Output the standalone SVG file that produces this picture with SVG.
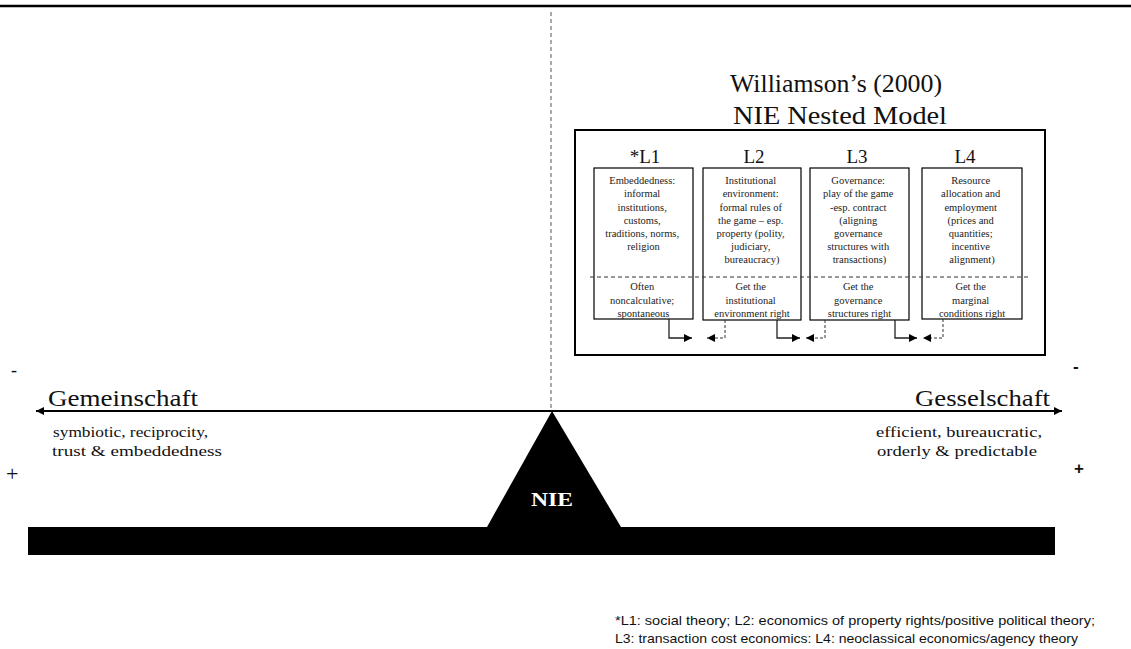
<svg xmlns="http://www.w3.org/2000/svg" width="1131" height="649" viewBox="0 0 1131 649">
  <style>
    .serif { font-family: "Liberation Serif", "DejaVu Serif", serif; fill: #111; }
    .sans { font-family: "Liberation Sans", Arial, sans-serif; fill: #111; }
    .lvl { font-size: 10.5px; text-anchor: middle; fill: #222; }
    .head { font-size: 19px; text-anchor: middle; }
    .title { font-size: 26px; text-anchor: middle; }
    .pole { font-size: 24px; }
    .desc { font-size: 15px; }
    .inner { fill: #fff; stroke: #000; stroke-width: 1.2; }
    .solid { fill: none; stroke: #222; stroke-width: 1.3; }
    .dashed { fill: none; stroke: #333; stroke-width: 1; stroke-dasharray: 3 2; }
  </style>
  <defs>
    <marker id="head" viewBox="0 0 10 10" refX="10" refY="5" markerWidth="9" markerHeight="8" markerUnits="userSpaceOnUse" orient="auto">
      <path d="M0,0 L10,5 L0,10 z" fill="#000"/>
    </marker>
    <marker id="bigHead" viewBox="0 0 10 10" refX="10" refY="5" markerWidth="11" markerHeight="8" markerUnits="userSpaceOnUse" orient="auto-start-reverse">
      <path d="M0,0 L10,5 L0,10 z" fill="#000"/>
    </marker>
  </defs>

  <rect width="1131" height="649" fill="#fff"/>

  <!-- page rule at top -->
  <line x1="0" y1="6" x2="1131" y2="6" stroke="#000" stroke-width="2.4"/>

  <!-- Williamson nested model -->
  <g id="nested-model">
    <text class="serif title" x="836" y="92" textLength="212" lengthAdjust="spacingAndGlyphs">Williamson’s (2000)</text>
    <text class="serif title" x="840" y="124" textLength="214" lengthAdjust="spacingAndGlyphs">NIE Nested Model</text>
    <rect x="575" y="130" width="470" height="225" fill="#fff" stroke="#000" stroke-width="2"/>
  </g>

  <g id="level-L1">
    <text class="serif head" x="645" y="163">*L1</text>
    <rect class="inner" x="594" y="168" width="99" height="151"/>
    <text class="serif lvl">
      <tspan x="643.5" y="184">Embeddedness:</tspan>
      <tspan x="643.5" y="197">informal</tspan>
      <tspan x="643.5" y="211">institutions,</tspan>
      <tspan x="643.5" y="224">customs,</tspan>
      <tspan x="643.5" y="237">traditions, norms,</tspan>
      <tspan x="643.5" y="250">religion</tspan>
    </text>
    <text class="serif lvl">
      <tspan x="643.5" y="290">Often</tspan>
      <tspan x="643.5" y="304">noncalculative;</tspan>
      <tspan x="643.5" y="317">spontaneous</tspan>
    </text>
  </g>

  <g id="level-L2">
    <text class="serif head" x="754" y="163">L2</text>
    <rect class="inner" x="703" y="168" width="98" height="152"/>
    <text class="serif lvl">
      <tspan x="752" y="184">Institutional</tspan>
      <tspan x="752" y="197">environment:</tspan>
      <tspan x="752" y="211">formal rules of</tspan>
      <tspan x="752" y="224">the game – esp.</tspan>
      <tspan x="752" y="237">property (polity,</tspan>
      <tspan x="752" y="250">judiciary,</tspan>
      <tspan x="752" y="263">bureaucracy)</tspan>
    </text>
    <text class="serif lvl">
      <tspan x="752" y="290">Get the</tspan>
      <tspan x="752" y="304">institutional</tspan>
      <tspan x="752" y="317">environment right</tspan>
    </text>
  </g>

  <g id="level-L3">
    <text class="serif head" x="857" y="163">L3</text>
    <rect class="inner" x="810" y="168" width="99" height="152"/>
    <text class="serif lvl">
      <tspan x="859.5" y="184">Governance:</tspan>
      <tspan x="859.5" y="197">play of the game</tspan>
      <tspan x="859.5" y="211">-esp. contract</tspan>
      <tspan x="859.5" y="224">(aligning</tspan>
      <tspan x="859.5" y="237">governance</tspan>
      <tspan x="859.5" y="250">structures with</tspan>
      <tspan x="859.5" y="263">transactions)</tspan>
    </text>
    <text class="serif lvl">
      <tspan x="859.5" y="290">Get the</tspan>
      <tspan x="859.5" y="304">governance</tspan>
      <tspan x="859.5" y="317">structures right</tspan>
    </text>
  </g>

  <g id="level-L4">
    <text class="serif head" x="965" y="163">L4</text>
    <rect class="inner" x="922" y="168" width="100" height="151"/>
    <text class="serif lvl">
      <tspan x="972" y="184">Resource</tspan>
      <tspan x="972" y="197">allocation and</tspan>
      <tspan x="972" y="211">employment</tspan>
      <tspan x="972" y="224">(prices and</tspan>
      <tspan x="972" y="237">quantities;</tspan>
      <tspan x="972" y="250">incentive</tspan>
      <tspan x="972" y="263">alignment)</tspan>
    </text>
    <text class="serif lvl">
      <tspan x="972" y="290">Get the</tspan>
      <tspan x="972" y="304">marginal</tspan>
      <tspan x="972" y="317">conditions right</tspan>
    </text>
  </g>

  <!-- divider between the level descriptions and their goals -->
  <line x1="590" y1="277" x2="1030" y2="277" stroke="#333" stroke-width="1" stroke-dasharray="4 3"/>

  <!-- balance: poles, beam and fulcrum -->
  <g id="gemeinschaft">
    <text class="serif pole" x="48" y="406" textLength="150" lengthAdjust="spacingAndGlyphs">Gemeinschaft</text>
    <text class="serif desc" x="53" y="437" textLength="155" lengthAdjust="spacingAndGlyphs">symbiotic, reciprocity,</text>
    <text class="serif desc" x="52" y="456" textLength="170" lengthAdjust="spacingAndGlyphs">trust &amp; embeddedness</text>
    <text class="serif" x="11" y="376" font-size="18">-</text>
    <text class="serif" x="6" y="481" font-size="22">+</text>
  </g>

  <g id="gesselschaft">
    <text class="serif pole" x="915" y="406" textLength="135" lengthAdjust="spacingAndGlyphs">Gesselschaft</text>
    <text class="serif desc" x="876" y="437" textLength="166" lengthAdjust="spacingAndGlyphs">efficient, bureaucratic,</text>
    <text class="serif desc" x="877" y="456" textLength="160" lengthAdjust="spacingAndGlyphs">orderly &amp; predictable</text>
    <text class="sans" x="1073" y="372" font-size="17" font-weight="bold">-</text>
    <text class="sans" x="1074" y="474" font-size="17" font-weight="bold">+</text>
  </g>

  <g id="nie">
    <polygon points="552,411 487,527 621,527" fill="#000"/>
    <rect x="28" y="527" width="1027" height="28" fill="#000"/>
    <text class="serif" x="552" y="506" font-size="18" font-weight="bold" text-anchor="middle" style="fill:#fff" textLength="42" lengthAdjust="spacingAndGlyphs">NIE</text>
  </g>

  <g id="footnote">
    <text class="sans" x="615" y="625" font-size="13" textLength="480" lengthAdjust="spacingAndGlyphs">*L1: social theory; L2: economics of property rights/positive political theory;</text>
    <text class="sans" x="615" y="643" font-size="13" textLength="463" lengthAdjust="spacingAndGlyphs">L3: transaction cost economics: L4: neoclassical economics/agency theory</text>
  </g>

  <g id="connectors">
    <!-- central dashed axis -->
    <line x1="551" y1="12" x2="551" y2="410" stroke="#555" stroke-width="1" stroke-dasharray="4 3"/>
    <!-- Gemeinschaft / Gesselschaft continuum -->
    <line x1="36" y1="411" x2="1062" y2="411" stroke="#000" stroke-width="2" marker-start="url(#bigHead)" marker-end="url(#bigHead)"/>
    <!-- constraints passed down (solid) and feedback passed up (dashed) -->
    <path class="solid" d="M669,319 V338 H692" marker-end="url(#head)"/>
    <path class="dashed" d="M725,320 V338 H707" marker-end="url(#head)"/>
    <path class="solid" d="M777,320 V338 H800" marker-end="url(#head)"/>
    <path class="dashed" d="M825,320 V338 H806" marker-end="url(#head)"/>
    <path class="solid" d="M895,320 V338 H917" marker-end="url(#head)"/>
    <path class="dashed" d="M943,319 V338 H923" marker-end="url(#head)"/>
  </g>
</svg>
